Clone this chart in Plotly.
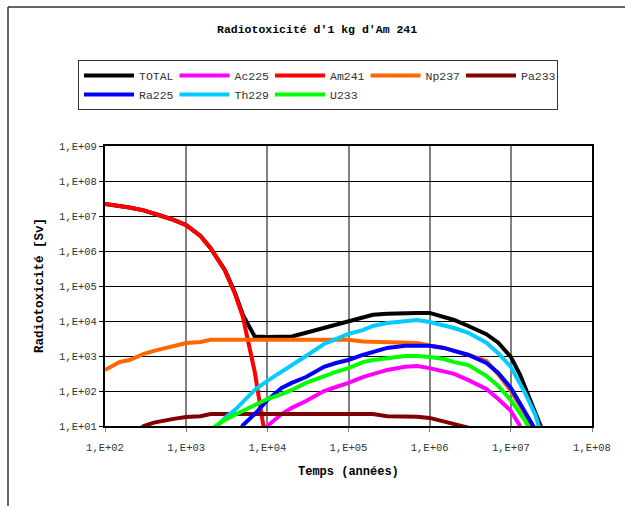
import plotly.graph_objects as go

# Time axis (years)
annees = [100, 150, 200, 300, 400, 500, 700,
          1e3, 1.5e3, 2e3, 3e3, 4e3, 5e3, 7e3,
          1e4, 1.5e4, 2e4, 3e4, 5e4, 7e4,
          1e5, 1.5e5, 2e5, 3e5, 5e5, 7e5,
          1e6, 1.5e6, 2e6, 3e6, 5e6, 7e6,
          1e7, 1.3e7, 1.5e7, 2e7, 2.5e7]

# Radiotoxicity per nuclide (Sv); None where the nuclide is absent
total = [2.2e7, 1.95e7, 1.75e7, 1.45e7, 1.2e7, 1.0e7, 7.7e6,
         5.5e6, 2.7e6, 1.2e6, 2.85e5, 6.3e4, 1.5e4, 3.6e3,
         3.5e3, 3.5e3, 3.6e3, 4.6e3, 6.3e3, 7.7e3,
         9.4e3, 1.2e4, 1.5e4, 1.6e4, 1.7e4, 1.7e4,
         1.7e4, 1.3e4, 1.07e4, 7.2e3, 4.2e3, 2.4e3,
         940, 290, 130, 25, 6.7]
ac225 = [None, None, None, None, None, None, None,
         None, None, None, None, None, None, 3,
         10, 22, 33, 52, 100, 130,
         170, 250, 310, 400, 490, 520,
         450, 370, 310, 205, 115, 59,
         27, 10, 3, None, None]
am241 = [2.2e7, 1.95e7, 1.75e7, 1.45e7, 1.2e7, 1.0e7, 7.7e6,
         5.5e6, 2.7e6, 1.2e6, 2.8e5, 6.0e4, 1.3e4, 350,
         2, None, None, None, None, None,
         None, None, None, None, None, None,
         None, None, None, None, None, None,
         None, None, None, None, None]
np237 = [400, 670, 770, 1150, 1400, 1600, 1950,
         2350, 2500, 2900, 2900, 2900, 2900, 2900,
         2900, 2900, 2900, 2900, 2900, 2900,
         2900, 2600, 2550, 2550, 2500, 2350,
         2000, 1700, 1400, 1100, 720, 300,
         100, 38, 22, 5, 1]
pa233 = [None, None, 5, 10, 12.5, 14, 16,
         18, 19, 22, 22, 22, 22, 22,
         22, 22, 22, 22, 22, 22,
         22, 22, 22, 19, 19, 18.5,
         17, 13.5, 11.4, 9, None, None,
         None, None, None, None, None]
ra225 = [None, None, None, None, None, None, None,
         None, None, None, None, 4, 10.5, 22,
         55, 122, 170, 250, 490, 630,
         770, 1070, 1300, 1700, 1950, 1950,
         1950, 1700, 1400, 1070, 630, 330,
         122, 45, 27, 8, 1]
th229 = [None, None, None, None, None, None, None,
         None, None, 6, 17, 29, 49, 107,
         194, 350, 550, 1000, 2200, 3100,
         4300, 5500, 7200, 8800, 1.0e4, 1.07e4,
         9.4e3, 7.7e3, 6.3e3, 4.6e3, 2.4e3, 1.2e3,
         490, 160, 87, 21, 4]
u233 = [None, None, None, None, None, None, None,
        None, None, 8, 15, 21, 27, 40,
        59, 82, 107, 170, 270, 350,
        450, 670, 770, 880, 1000, 1000,
        940, 820, 670, 550, 270, 140,
        55, 23, 14, 4, None]

noms = ["TOTAL", "Ac225", "Am241", "Np237", "Pa233", "Ra225", "Th229", "U233"]
series = [total, ac225, am241, np237, pa233, ra225, th229, u233]
couleurs = ["#000000", "#FF00FF", "#FF0000", "#FF6600", "#800000",
            "#0000FF", "#00CCFF", "#00FF00"]

x_ticks = [1e2, 1e3, 1e4, 1e5, 1e6, 1e7, 1e8]
x_labels = ["1,E+02", "1,E+03", "1,E+04", "1,E+05", "1,E+06", "1,E+07", "1,E+08"]
y_ticks = [1e1, 1e2, 1e3, 1e4, 1e5, 1e6, 1e7, 1e8, 1e9]
y_labels = ["1,E+01", "1,E+02", "1,E+03", "1,E+04", "1,E+05",
            "1,E+06", "1,E+07", "1,E+08", "1,E+09"]

MONO = "Liberation Mono"

fig = go.Figure()
for nom, vals, coul in zip(noms, series, couleurs):
    fig.add_trace(go.Scatter(
        x=annees, y=vals, name=nom, mode="lines",
        line=dict(color=coul, width=4), connectgaps=False,
    ))

# plot area in pixels: x 105..592, y 146..426 of a 625x506 page
L, R, T, B = 105, 33, 146, 80
W, H = 625 - L - R, 506 - T - B


def px(x):
    return (x - L) / W


def py(y):
    return (506 - B - y) / H


fig.update_layout(
    width=625, height=506,
    margin=dict(l=L, r=R, t=T, b=B),
    paper_bgcolor="white", plot_bgcolor="white",
    showlegend=True,
    legend=dict(
        orientation="h", x=px(318), y=py(60), xanchor="center", yanchor="top",
        bordercolor="#333333", borderwidth=1, bgcolor="white",
        font=dict(family=MONO, size=11.5, color="#333333"),
        entrywidth=30.5, entrywidthmode="pixels", itemwidth=50,
        traceorder="normal",
    ),
    xaxis=dict(
        type="log", range=[2, 8], tickvals=x_ticks, ticktext=x_labels,
        showgrid=True, gridcolor="#808080", gridwidth=1.5,
        showline=True, linecolor="black", linewidth=2, mirror=True,
        ticks="outside", ticklen=4, tickcolor="#808080",
        tickfont=dict(family=MONO, size=10.5, color="#333333"),
        ticklabelstandoff=6, zeroline=False,
    ),
    yaxis=dict(
        type="log", range=[1, 9], tickvals=y_ticks, ticktext=y_labels,
        showgrid=True, gridcolor="black", gridwidth=1,
        showline=True, linecolor="black", linewidth=2, mirror=True,
        ticks="outside", ticklen=4, tickcolor="black",
        tickfont=dict(family=MONO, size=10.5, color="#333333"),
        zeroline=False,
    ),
    annotations=[
        dict(text="<b>Radiotoxicité d'1 kg d'Am 241</b>", xref="paper", yref="paper",
             x=px(317), y=py(30), xanchor="center", yanchor="middle", showarrow=False,
             font=dict(family=MONO, size=11.5, color="black")),
        dict(text="<b>Temps (années)</b>", xref="paper", yref="paper",
             x=px(348), y=py(472), xanchor="center", yanchor="middle", showarrow=False,
             font=dict(family=MONO, size=12, color="black")),
        dict(text="<b>Radiotoxicité [Sv]</b>", xref="paper", yref="paper",
             x=px(40), y=py(286), xanchor="center", yanchor="middle", showarrow=False,
             textangle=-90, font=dict(family=MONO, size=12.5, color="black")),
    ],
    shapes=[
        dict(type="line", xref="paper", yref="paper",
             x0=px(8), x1=px(625), y0=py(7), y1=py(7),
             line=dict(color="#333333", width=1.5)),
        dict(type="line", xref="paper", yref="paper",
             x0=px(8), x1=px(8), y0=py(7), y1=py(506),
             line=dict(color="#333333", width=1.5)),
    ],
)

fig.write_html("out.html")
